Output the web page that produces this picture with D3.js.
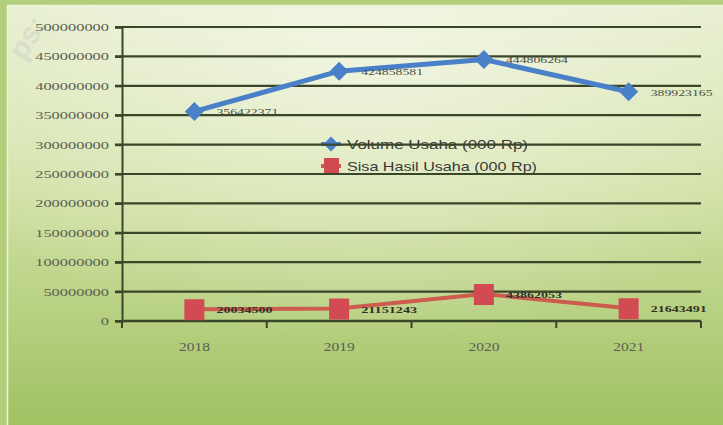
<!DOCTYPE html>
<html><head><meta charset="utf-8">
<script src="https://cdn.jsdelivr.net/npm/d3@7"></script>
<style>html,body{margin:0;padding:0;overflow:hidden;background:#b5d07e}</style>
</head><body>
<svg id="c" width="723" height="425"></svg>
<script>
const years = ["2018","2019","2020","2021"];
const volumeUsaha = [356422371, 424858581, 444806264, 389923165];
const volumeLabels = ["356422371","424858581","444806264","389923165"];
const sisaHasil = [20034500, 21151243, 45862053, 21643491];
const sisaLabels = ["20034500","21151243","43862053","21643491"];
const yTicks = [0,50000000,100000000,150000000,200000000,250000000,300000000,350000000,400000000,450000000,500000000];
const seriesNames = ["Volume Usaha (000 Rp)","Sisa Hasil Usaha (000 Rp)"];

const svg = d3.select("#c");
const defs = svg.append("defs");
const g1 = defs.append("linearGradient").attr("id","bg").attr("x1",0).attr("y1",0).attr("x2",0).attr("y2",1);
g1.append("stop").attr("offset","0%").attr("stop-color","#e6eecd");
g1.append("stop").attr("offset","45%").attr("stop-color","#cfe0a2");
g1.append("stop").attr("offset","100%").attr("stop-color","#a1c263");
const g2 = defs.append("radialGradient").attr("id","glow").attr("cx","0.5").attr("cy","0.1").attr("r","0.7");
g2.append("stop").attr("offset","0%").attr("stop-color","#f6f8ea").attr("stop-opacity",0.75);
g2.append("stop").attr("offset","100%").attr("stop-color","#f6f8ea").attr("stop-opacity",0);

svg.append("rect").attr("width",723).attr("height",425).attr("fill","#b3cf7c");
svg.append("rect").attr("x",7).attr("y",5).attr("width",716).attr("height",420).attr("fill","url(#bg)");
svg.append("rect").attr("x",7).attr("y",5).attr("width",716).attr("height",420).attr("fill","url(#glow)");
svg.append("rect").attr("x",7.5).attr("y",5.5).attr("width",720).attr("height",425).attr("fill","none").attr("stroke","#eef4dc").attr("stroke-width",1.5);

// watermark
svg.append("text").attr("transform","translate(24,62) rotate(-58)").attr("font-family","Liberation Sans, Arial").attr("font-weight","bold")
  .attr("font-size",30).attr("fill","#d6dacb").attr("opacity",0.75).text("ps:");

const L = 122, R = 701, T = 27, B = 321;
const x = d3.scaleBand().domain(years).range([L,R]);
const y = d3.scaleLinear().domain([0,500000000]).range([B,T]);
const gridColor = "#3a4629";
const serif = "Liberation Serif, Times New Roman";

// legend (under gridlines)
const leg = svg.append("g");
const legY = [144,166];
leg.append("line").attr("x1",321).attr("x2",341).attr("y1",legY[0]).attr("y2",legY[0]).attr("stroke","#4a80c8").attr("stroke-width",4);
leg.append("path").attr("d",d3.symbol(d3.symbolSquare,110)()).attr("transform",`translate(331,${legY[0]}) rotate(45)`).attr("fill","#4a80c8");
leg.append("line").attr("x1",321).attr("x2",341).attr("y1",legY[1]).attr("y2",legY[1]).attr("stroke","#cf5a50").attr("stroke-width",4);
leg.append("rect").attr("x",324).attr("y",legY[1]-8).attr("width",15).attr("height",16).attr("fill","#d04a50");
const legLen = [181,190];
leg.selectAll("text").data(seriesNames).join("text")
  .attr("x",347).attr("y",(d,i)=>legY[i]+5).attr("font-family","Liberation Sans, Arial").attr("font-size",13)
  .attr("textLength",(d,i)=>legLen[i]).attr("lengthAdjust","spacingAndGlyphs")
  .attr("fill","#3a3a38").text(d=>d);

// gridlines
svg.append("g").selectAll("line").data(yTicks).join("line")
  .attr("x1",L-7).attr("x2",R).attr("y1",d=>y(d)).attr("y2",d=>y(d))
  .attr("stroke",gridColor).attr("stroke-width",2.2);

// y axis
const ya = svg.append("g").attr("transform",`translate(${L},0)`)
  .call(d3.axisLeft(y).tickValues(yTicks).tickFormat(d=>String(d)).tickSize(7).tickPadding(6));
ya.select(".domain").attr("stroke",gridColor).attr("stroke-width",2);
ya.selectAll(".tick line").attr("stroke",gridColor).attr("stroke-width",2.2);
ya.selectAll("text").attr("font-family",serif).attr("font-size",11).attr("fill","#5a5d52")
  .attr("textLength",d=>String(d).length*8.2).attr("lengthAdjust","spacingAndGlyphs");

// x axis
const xa = svg.append("g").attr("transform",`translate(0,${B})`)
  .call(d3.axisBottom(x).tickSize(0).tickPadding(21));
xa.select(".domain").remove();
xa.selectAll("text").attr("font-family",serif).attr("font-size",12).attr("fill","#5a5d52")
  .attr("textLength",31).attr("lengthAdjust","spacingAndGlyphs");
const bounds = years.map(d=>x(d)).concat([R]);
svg.append("g").selectAll("line").data(bounds).join("line")
  .attr("x1",d=>d).attr("x2",d=>d).attr("y1",B).attr("y2",B+7)
  .attr("stroke",gridColor).attr("stroke-width",2);
svg.append("line").attr("x1",L).attr("x2",R).attr("y1",B).attr("y2",B).attr("stroke",gridColor).attr("stroke-width",2.5);

const cx = d => x(d) + x.bandwidth()/2;
const line = d3.line().x((d,i)=>cx(years[i])).y(d=>y(d));

// red series
svg.append("path").datum(sisaHasil).attr("d",line).attr("fill","none").attr("stroke","#cd5c4f").attr("stroke-width",4);
svg.append("g").selectAll("rect").data(sisaHasil).join("rect")
  .attr("x",(d,i)=>cx(years[i])-10).attr("y",d=>y(d)-10).attr("width",20).attr("height",21).attr("fill","#d24a52");
svg.append("g").selectAll("text").data(sisaLabels).join("text")
  .attr("x",(d,i)=>cx(years[i])+22).attr("y",(d,i)=>y(sisaHasil[i])+4)
  .attr("font-family",serif).attr("font-size",9).attr("font-weight","bold").attr("fill","#2f3326")
  .attr("textLength",56).attr("lengthAdjust","spacingAndGlyphs").text(d=>d);

// blue series
svg.append("path").datum(volumeUsaha).attr("d",line).attr("fill","none").attr("stroke","#4a80c8").attr("stroke-width",5);
svg.append("g").selectAll("path").data(volumeUsaha).join("path")
  .attr("d",d3.symbol(d3.symbolSquare,180)()).attr("transform",(d,i)=>`translate(${cx(years[i])},${y(d)}) rotate(45)`).attr("fill","#4a80c8");
svg.append("g").selectAll("text").data(volumeLabels).join("text")
  .attr("x",(d,i)=>cx(years[i])+22).attr("y",(d,i)=>y(volumeUsaha[i])+4)
  .attr("font-family",serif).attr("font-size",9).attr("fill","#4a4e44")
  .attr("textLength",62).attr("lengthAdjust","spacingAndGlyphs").text(d=>d);
</script>
</body></html>
